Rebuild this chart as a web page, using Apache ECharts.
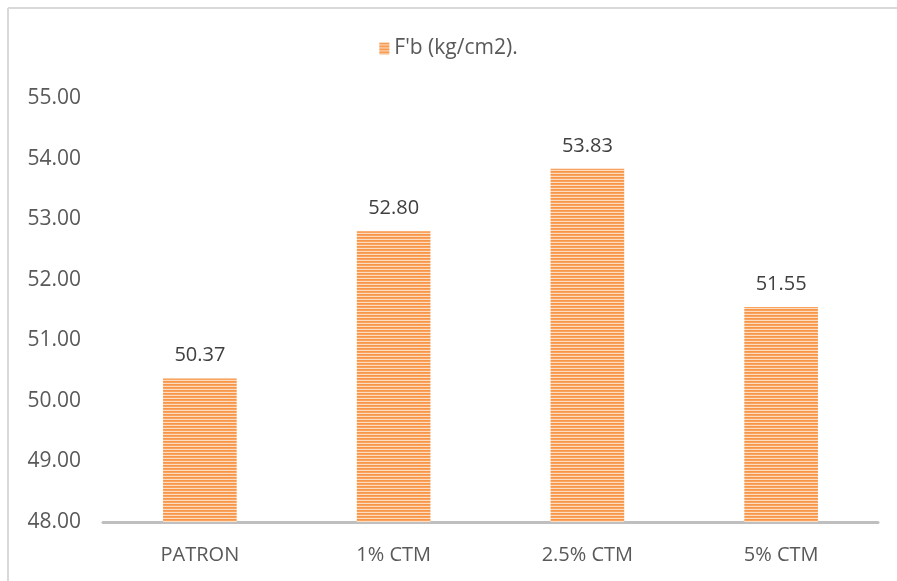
<!DOCTYPE html>
<html>
<head>
<meta charset="utf-8">
<script src="https://cdn.jsdelivr.net/npm/echarts@6/dist/echarts.min.js"></script>
<style>
html,body{margin:0;padding:0;background:#fff;overflow:hidden;}
#chart{width:897px;height:581px;}
</style>
</head>
<body>
<div id="chart"></div>
<script>
const categories = ['PATRON', '1% CTM', '2.5% CTM', '5% CTM'];
const values = [50.37, 52.80, 53.83, 51.55];
const seriesName = "F'b (kg/cm2).";
const yMin = 48, yMax = 55, yInterval = 1;

function makePattern() {
  const c = document.createElement('canvas');
  c.width = 4; c.height = 3;
  const ctx = c.getContext('2d');
  const rows = ['#F79646', '#F8A35F', '#FDDDC2'];
  rows.forEach((col, i) => { ctx.fillStyle = col; ctx.fillRect(0, i, 4, 1); });
  return c;
}
const pattern = { image: makePattern(), repeat: 'repeat' };

const chart = echarts.init(document.getElementById('chart'));
const font = '"Open Sans", sans-serif';
chart.setOption({
  animation: false,
  backgroundColor: '#fff',
  textStyle: { fontFamily: font },
  graphic: [
    { type: 'line', shape: { x1: 8, y1: 8, x2: 897, y2: 8 }, style: { stroke: '#d9d9d9', lineWidth: 2 }, silent: true },
    { type: 'line', shape: { x1: 8, y1: 8, x2: 8, y2: 581 }, style: { stroke: '#d9d9d9', lineWidth: 2 }, silent: true }
  ],
  legend: {
    top: 33, left: 'center',
    itemWidth: 10, itemHeight: 12, icon: 'rect', itemGap: 10,
    textStyle: { fontSize: 21, color: '#595959', fontFamily: font },
    data: [seriesName]
  },
  grid: { left: 103, right: 19, top: 98, bottom: 59 },
  xAxis: {
    type: 'category', data: categories,
    axisLine: { lineStyle: { color: '#bfbfbf', width: 3 } },
    axisTick: { show: false },
    axisLabel: { fontSize: 20, color: '#595959', margin: 23, fontFamily: font }
  },
  yAxis: {
    type: 'value', min: yMin, max: yMax, interval: yInterval,
    splitLine: { show: false },
    axisLine: { show: false }, axisTick: { show: false },
    axisLabel: { fontSize: 21, color: '#595959', margin: 22, fontFamily: font,
      formatter: v => v.toFixed(2) }
  },
  series: [{
    name: seriesName, type: 'bar', data: values, barWidth: '38%',
    itemStyle: { color: pattern },
    label: { show: true, position: 'top', distance: 13, fontSize: 20, color: '#404040',
      fontFamily: font, formatter: p => p.value.toFixed(2) }
  }]
});
</script>
</body>
</html>
